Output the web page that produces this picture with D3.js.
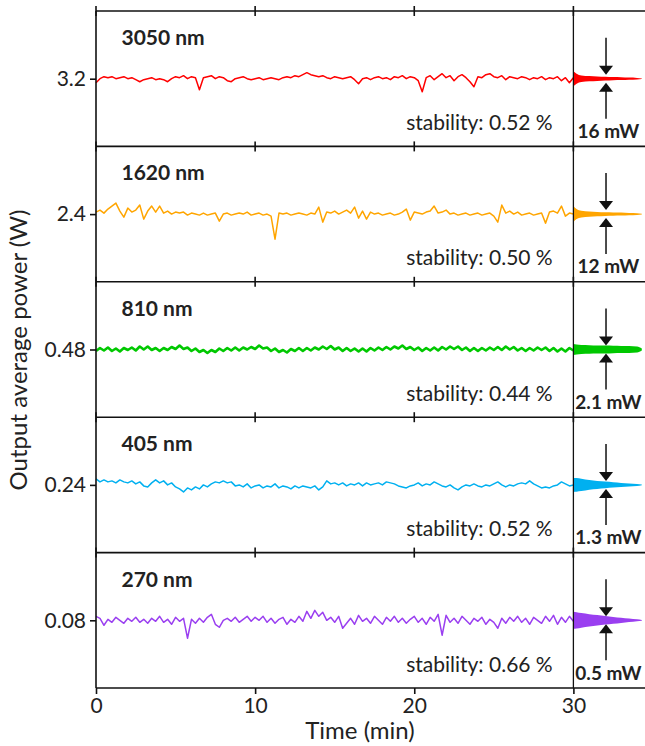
<!DOCTYPE html>
<html>
<head>
<meta charset="utf-8">
<script src="https://cdn.jsdelivr.net/npm/d3@7"></script>
<style>
  body { margin: 0; background: #fff; }
  text { font-family: Lato, "Open Sans", sans-serif; fill: #222; }
</style>
</head>
<body>
<script>
// panel names (top to bottom)
var wavelengths = ["3050 nm", "1620 nm", "810 nm", "405 nm", "270 nm"];
var levels = ["3.2", "2.4", "0.48", "0.24", "0.08"];
var stabilities = ["stability: 0.52 %", "stability: 0.50 %", "stability: 0.44 %", "stability: 0.52 %", "stability: 0.66 %"];
var spreads = ["16 mW", "12 mW", "2.1 mW", "1.3 mW", "0.5 mW"];
var colors = ["#ff0000", "#ffa500", "#00c800", "#00b0f0", "#9a3ff0"];
// half range of each panel's y axis, mW around the mean level
var halfRange = [67.5, 67.5, 13.5, 6.75, 3.4];
var xTicks = [0, 10, 20, 30];

// time series: deviation from mean level (mW), one sample every 0.25 min
var step = 0.25;
var red = [-4,0,2,1,2,0,1,2,0,1,-1,-3,-1,0,1,-1,0,-1,-3,0,2,1,3,0,2,1,-11,1,2,3,0,2,1,-2,-3,0,1,2,0,-1,
  0,1,-1,0,1,0,-1,1,2,1,3,2,4,6,4,3,2,3,1,0,2,1,0,1,2,-1,-5,0,1,-1,1,2,0,1,-1,2,1,3,0,2,
  1,-2,-13,1,3,-1,2,5,1,3,-2,2,4,1,-3,-8,2,1,4,5,2,1,3,-1,2,1,0,2,1,-1,1,0,2,-1,1,0,2,-2,1,-4,1];
var orange = [2,4,1,5,8,11,3,-3,6,2,4,9,-5,3,8,2,8,1,3,0,2,1,2,-1,1,0,-1,1,-1,0,1,-7,0,1,-1,0,1,0,2,-1,
  0,1,-1,0,-2,-25,1,0,1,-1,0,1,0,-1,1,0,7,-8,2,1,3,0,2,4,1,7,-4,3,-5,2,0,1,-1,0,1,-1,0,2,5,-6,
  2,1,0,2,3,8,1,2,4,0,1,-1,0,1,-1,0,1,-1,0,1,-2,-8,9,1,3,0,2,-1,0,1,-1,0,1,-9,2,3,1,8,-2,1,0];
var green = [-0.3,0.3,-0.2,0.4,-0.3,0.2,-0.4,0.3,-0.1,0.4,-0.2,0.6,0.0,0.6,-0.1,0.3,-0.3,0.3,-0.1,0.5,
  0.1,0.8,0.1,0.4,-0.3,0.2,-0.5,-0.1,-0.7,-0.1,-0.5,0.2,-0.3,0.3,-0.2,0.4,-0.2,0.4,0.0,0.5,
  0.1,0.8,0.2,0.4,-0.3,0.2,-0.5,-0.1,-0.6,0.1,-0.3,0.3,-0.3,0.3,-0.2,0.4,0.0,0.6,0.1,0.7,
  0.0,0.4,-0.3,0.3,-0.3,0.2,-0.4,0.2,-0.4,0.3,-0.2,0.4,-0.1,0.5,0.0,0.6,0.2,0.8,0.1,0.5,
  -0.1,0.4,-0.3,0.3,-0.2,0.4,-0.2,0.5,0.0,0.6,0.1,0.6,-0.1,0.4,-0.3,0.3,-0.3,0.3,-0.2,0.4,
  -0.1,0.5,-0.1,0.6,0.0,0.5,-0.2,0.3,-0.3,0.3,-0.2,0.4,-0.1,0.4,-0.3,0.3,-0.4,0.2,-0.4,0.3,-0.2];
var blue = [0.6,0.3,0.5,0.3,0.4,0.2,0.5,0.3,0.2,0.4,0.1,0.3,-0.1,-0.2,0.2,0.5,0.2,0.4,0.0,0.2,
  -0.2,-0.4,-0.7,-0.3,-0.5,-0.2,-0.4,0.0,-0.2,0.1,0.3,0.2,0.4,0.2,0.3,-0.1,0.0,-0.2,0.1,-0.3,
  -0.1,0.0,-0.3,-0.1,-0.2,0.1,-0.3,-0.1,-0.2,-0.4,-0.1,-0.3,-0.1,-0.2,-0.3,-0.1,-0.5,-0.2,0.4,0.1,
  0.2,0.0,0.2,-0.1,0.1,0.0,0.2,-0.1,0.2,0.0,0.1,0.2,0.0,0.3,0.2,0.1,-0.1,-0.2,-0.3,-0.1,
  0.0,0.2,-0.1,0.1,0.0,0.3,0.1,-0.1,-0.2,0.0,-0.3,-0.5,-0.2,0.0,-0.1,0.1,-0.1,-0.2,0.0,-0.1,
  0.1,0.3,0.0,-0.2,0.0,-0.1,0.1,0.2,0.1,0.4,0.1,-0.1,-0.3,-0.2,-0.3,-0.1,0.0,0.3,0.1,-0.1,0.0];
var purple = [0.2,0.1,-0.25,0.05,-0.1,0.15,0.0,-0.15,0.1,-0.05,0.15,-0.1,0.05,-0.15,0.1,-0.05,0.2,-0.1,0.05,-0.2,
  0.15,-0.05,0.1,-0.9,0.05,-0.15,0.1,-0.1,0.15,0.3,-0.2,-0.35,0.0,0.1,-0.05,0.15,-0.1,0.05,0.2,-0.05,
  0.15,0.0,0.2,-0.1,0.1,-0.15,0.05,0.15,-0.2,0.05,-0.1,0.2,-0.05,0.45,0.1,0.5,0.2,0.4,0.0,0.15,
  -0.1,0.2,-0.4,-0.15,0.1,-0.2,0.25,-0.05,0.1,-0.15,0.2,0.0,-0.2,0.15,-0.05,0.2,-0.1,0.1,-0.15,0.05,
  0.2,-0.1,0.1,-0.2,0.15,-0.05,0.3,-0.75,0.25,-0.1,0.1,-0.15,0.2,0.0,-0.2,0.1,-0.05,0.15,-0.2,0.05,
  -0.1,-0.4,0.1,-0.15,0.15,-0.05,0.2,-0.1,0.1,-0.2,0.15,0.0,-0.15,0.2,-0.05,0.25,-0.2,0.15,-0.1,0.2,-0.05];
var series = [red, orange, green, blue, purple];

// spread of each trace drawn to the right of t = 30 min (half width, mW)
var spreadX = [30, 30.2, 30.5, 31, 31.5, 32, 32.5, 33, 33.5, 34, 34.3];
var spreadRed = [7.5, 5, 3.2, 2.6, 2.2, 1.9, 1.6, 1.4, 1.1, 0.8, 0.3];
var spreadOrange = [8, 5, 3.3, 2.6, 2.2, 1.9, 1.7, 1.5, 1.2, 0.9, 0.3];
var spreadGreen = [1.1, 1.0, 0.9, 0.86, 0.8, 0.8, 0.76, 0.72, 0.68, 0.6, 0.2];
var spreadBlue = [0.7, 0.68, 0.62, 0.48, 0.4, 0.33, 0.26, 0.2, 0.15, 0.1, 0.03];
var spreadPurple = [0.43, 0.41, 0.37, 0.31, 0.26, 0.21, 0.17, 0.13, 0.09, 0.05, 0.02];
var spreadsData = [spreadRed, spreadOrange, spreadGreen, spreadBlue, spreadPurple];

var W = 645, H = 746;
var svg = d3.select("body").append("svg")
    .attr("width", W)
    .attr("height", H);

var x = d3.scaleLinear().domain([0, 34.5]).range([96, 645]);
var band = d3.scaleBand().domain(wavelengths).range([11, 688]);

var arrowX = 32.05;

wavelengths.forEach(function(name, p) {
    var top = band(name), bottom = top + band.bandwidth();
    var y = d3.scaleLinear().domain([-halfRange[p], halfRange[p]]).range([bottom, top]);
    var g = svg.append("g");
    var data = series[p].map(function(v, i) { return {t: i * step, v: v}; });

    // trace
    var line = d3.line()
        .x(function(d) { return x(d.t); })
        .y(function(d) { return y(d.v); });
    g.append("path")
        .datum(data)
        .attr("fill", "none")
        .attr("stroke", colors[p])
        .attr("stroke-width", p == 2 ? 2.6 : 1.5)
        .attr("stroke-linejoin", "round")
        .attr("d", line);

    // spread shape
    var sp = spreadX.map(function(t, i) { return {t: t, h: spreadsData[p][i]}; });
    var area = d3.area()
        .x(function(d) { return x(d.t); })
        .y0(function(d) { return y(-d.h); })
        .y1(function(d) { return y(d.h); })
        .curve(d3.curveMonotoneX);
    g.append("path")
        .datum(sp)
        .attr("fill", colors[p])
        .attr("d", area);

    // frame lines
    g.append("line").attr("x1", x(0)).attr("x2", W).attr("y1", top).attr("y2", top)
        .attr("stroke", "#111").attr("stroke-width", 1.6);
    g.append("line").attr("x1", x(0)).attr("x2", x(0)).attr("y1", top).attr("y2", bottom)
        .attr("stroke", "#111").attr("stroke-width", 1.6);
    g.append("line").attr("x1", x(30)).attr("x2", x(30)).attr("y1", top).attr("y2", bottom)
        .attr("stroke", "#111").attr("stroke-width", 1.3);

    // x ticks crossing the panel top
    xTicks.forEach(function(t) {
        g.append("line").attr("x1", x(t)).attr("x2", x(t))
            .attr("y1", top - 5).attr("y2", top + 5)
            .attr("stroke", "#111").attr("stroke-width", 1.6);
    });

    // y axis with one tick at the mean level
    g.append("g")
        .attr("transform", "translate(" + x(0) + ",0)")
        .call(d3.axisLeft(y).tickValues([0]).tickSize(6).tickPadding(4)
            .tickFormat(function() { return levels[p]; }))
        .call(function(a) {
            a.select(".domain").remove();
            a.selectAll("line").attr("stroke", "#111").attr("stroke-width", 1.6);
            a.selectAll("text").attr("font-size", 21).attr("fill", "#222")
                .style("font-family", "Lato, sans-serif");
        });

    // labels
    g.append("text")
        .attr("x", x(1.6))
        .attr("y", top + 34)
        .attr("font-size", 21)
        .attr("font-weight", "bold")
        .text(name);
    g.append("text")
        .attr("x", x(28.7))
        .attr("y", top + 119)
        .attr("text-anchor", "end")
        .attr("font-size", 21)
        .text(stabilities[p]);
    g.append("text")
        .attr("x", x(32.2))
        .attr("y", top + 127)
        .attr("text-anchor", "middle")
        .attr("font-size", 19)
        .attr("font-weight", "bold")
        .text(spreads[p]);

    // arrows pointing at the spread
    var cy = y(0), ax = x(arrowX);
    g.append("line").attr("x1", ax).attr("x2", ax).attr("y1", cy - 41).attr("y2", cy - 12)
        .attr("stroke", "#111").attr("stroke-width", 1.5);
    g.append("path")
        .attr("d", "M" + (ax - 7) + "," + (cy - 13) + "L" + (ax + 7) + "," + (cy - 13) + "L" + ax + "," + (cy - 4) + "Z")
        .attr("fill", "#111");
    g.append("line").attr("x1", ax).attr("x2", ax).attr("y1", cy + 12).attr("y2", cy + 40)
        .attr("stroke", "#111").attr("stroke-width", 1.5);
    g.append("path")
        .attr("d", "M" + (ax - 7) + "," + (cy + 13) + "L" + (ax + 7) + "," + (cy + 13) + "L" + ax + "," + (cy + 4) + "Z")
        .attr("fill", "#111");
});

// bottom x axis
var bottomY = band.range()[1];
svg.append("line").attr("x1", x(0)).attr("x2", W).attr("y1", bottomY).attr("y2", bottomY)
    .attr("stroke", "#111").attr("stroke-width", 1.6);
svg.append("g")
    .attr("transform", "translate(0," + bottomY + ")")
    .call(d3.axisBottom(x).tickValues(xTicks).tickSize(6).tickPadding(4))
    .call(function(a) {
        a.select(".domain").remove();
        a.selectAll("line").attr("stroke", "#111").attr("stroke-width", 1.6);
        a.selectAll("text").attr("font-size", 21).attr("fill", "#222")
            .style("font-family", "Lato, sans-serif");
    });

svg.append("text")
    .attr("x", 360)
    .attr("y", 739)
    .attr("text-anchor", "middle")
    .attr("font-size", 24)
    .text("Time (min)");

svg.append("text")
    .attr("transform", "translate(27," + 350 + ") rotate(-90)")
    .attr("text-anchor", "middle")
    .attr("font-size", 24)
    .text("Output average power (W)");
</script>
</body>
</html>
